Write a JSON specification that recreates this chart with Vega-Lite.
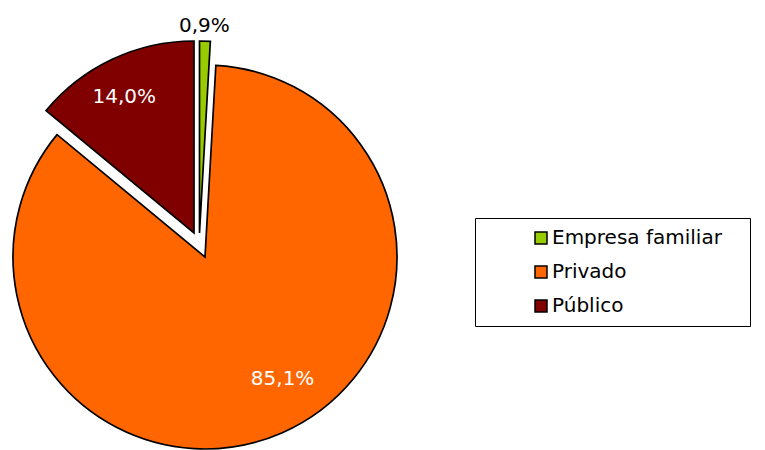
{
  "$schema": "https://vega.github.io/schema/vega-lite/v6.json",
  "autosize": "none",
  "width": 410,
  "height": 450,
  "padding": {"left": 0, "top": 32, "right": 355, "bottom": 0},
  "background": "white",
  "config": {"view": {"stroke": null}, "font": "DejaVu Sans"},
  "data": {
    "values": [
      {"category": "Empresa familiar", "value": 0.9, "order": 1, "label": "0,9%"},
      {"category": "Privado", "value": 85.1, "order": 2, "label": "85,1%"},
      {"category": "Público", "value": 14.0, "order": 3, "label": "14,0%"}
    ]
  },
  "encoding": {
    "color": {
      "field": "category",
      "type": "nominal",
      "scale": {"domain": ["Empresa familiar", "Privado", "Público"], "range": ["#99CC00", "#FF6600", "#800000"]},
      "legend": {
        "orient": "none",
        "legendX": 475,
        "legendY": 186,
        "title": "\u00a0",
        "titleOrient": "right",
        "titleFontSize": 8,
        "titlePadding": 18,
        "symbolType": "square",
        "symbolSize": 144,
        "symbolStrokeColor": "black",
        "symbolStrokeWidth": 1.5,
        "labelFont": "DejaVu Sans",
        "labelFontSize": 20,
        "labelColor": "black",
        "labelLimit": 400,
        "strokeColor": "black",
        "fillColor": "white",
        "padding": 10,
        "symbolOffset": 46,
        "labelOffset": 1,
        "rowPadding": 14
      }
    }
  },
  "layer": [
    {
      "transform": [
        {"stack": "value", "groupby": [], "sort": [{"field": "order", "order": "ascending"}], "as": ["v0", "v1"]}
      ],
      "encoding": {
        "theta": {"field": "v0", "type": "quantitative", "scale": {"domain": [0, 100]}},
        "theta2": {"field": "v1"}
      },
      "layer": [
        {
          "transform": [{"filter": "datum.category === 'Privado'"}],
          "mark": {"type": "arc", "radius": 192, "stroke": "black", "strokeWidth": 1.7}
        },
        {
          "transform": [{"filter": "datum.category === 'Público'"}],
          "mark": {"type": "arc", "radius": 192, "stroke": "black", "strokeWidth": 1.7, "xOffset": -11, "yOffset": -24}
        },
        {
          "transform": [{"filter": "datum.category === 'Empresa familiar'"}],
          "mark": {"type": "arc", "radius": 192, "stroke": "black", "strokeWidth": 1.7, "xOffset": -5.5, "yOffset": -24}
        }
      ]
    },
    {
      "encoding": {
        "theta": {"field": "value", "type": "quantitative", "stack": true},
        "order": {"field": "order", "type": "quantitative"}
      },
      "layer": [
        {
          "mark": {"type": "text", "radius": 144, "font": "DejaVu Sans", "fontSize": 20, "dx": 20, "dy": -10, "baseline": "middle", "align": "center"},
          "encoding": {
            "text": {"condition": {"test": "datum.category === 'Privado'", "field": "label"}, "value": ""},
            "color": {"value": "white"}
          }
        },
        {
          "mark": {"type": "text", "radius": 152, "font": "DejaVu Sans", "fontSize": 20, "xOffset": -11, "yOffset": -24, "dx": -5, "dy": 2, "baseline": "middle", "align": "center"},
          "encoding": {
            "text": {"condition": {"test": "datum.category === 'Público'", "field": "label"}, "value": ""},
            "color": {"value": "white"}
          }
        },
        {
          "mark": {"type": "text", "radius": 208, "font": "DejaVu Sans", "fontSize": 20, "xOffset": -5.5, "yOffset": -24, "dx": -1, "dy": 1, "baseline": "middle", "align": "center"},
          "encoding": {
            "text": {"condition": {"test": "datum.category === 'Empresa familiar'", "field": "label"}, "value": ""},
            "color": {"value": "black"}
          }
        }
      ]
    }
  ]
}
